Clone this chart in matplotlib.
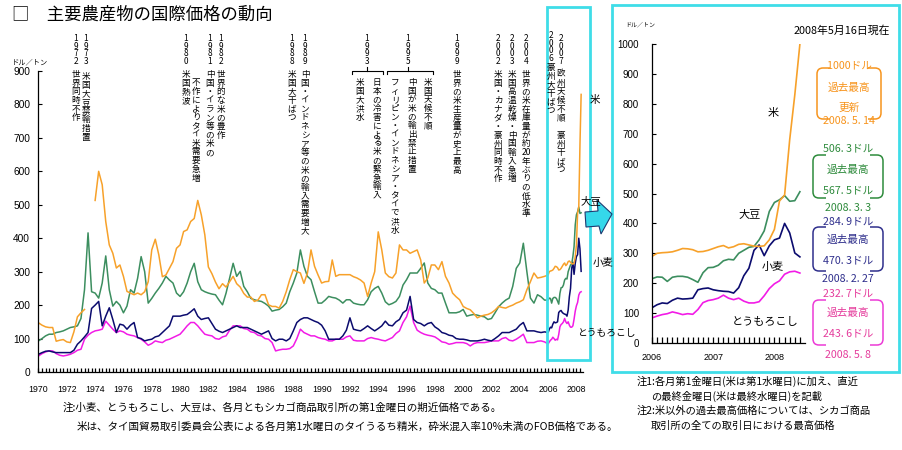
import re
import numpy as np
import matplotlib
matplotlib.use('Agg')
import matplotlib.pyplot as plt
import matplotlib.patches as mpatches
from matplotlib.path import Path

plt.rcParams['font.family'] = ['Noto Sans CJK JP', 'DejaVu Sans']

# ---------------- data (USD / ton) ----------------
# quarterly values 1970.00 ... 2005.75 (main chart)
rice_q = [147, 140, 135, 133,  133, 92, 95, 97,  90, 88, 120, 165,  177, 187, np.nan, np.nan,
          513, 600, 560, 450,  380, 355, 311, 320,  286, 241, 236, 231,  236, 231, 240, 270,
          365, 397, 350, 285,  290, 310, 330, 370,  380, 420, 425, 450,  459, 513, 470, 410,
          314, 294, 269, 249,  264, 254, 270, 286,  264, 254, 235, 224,  224, 211, 215, 231,
          231, 201, 196, 196,  191, 211, 240, 276,  306, 300, 296, 265,  296, 365, 316, 290,
          266, 270, 271, 335,  286, 291, 291, 291,  291, 285, 281, 275,  266, 226, 266, 300,
          419, 365, 296, 285,  281, 296, 380, 365,  365, 355, 360, 365,  335, 266, 281, 320,
          320, 306, 330, 286,  266, 236, 225, 216,  196, 190, 186, 175,  162, 167, 170, 172,
          177, 185, 196, 193,  191, 196, 200, 206,  210, 216, 246, 270,  296, 281, 283, 286]
soy_q = [93, 100, 108, 113,  113, 118, 120, 123,  128, 133, 135, 138,  160, 246, 416, 240,
         236, 221, 266, 347,  246, 197, 211, 200,  177, 197, 246, 236,  280, 345, 300, 206,
         220, 236, 250, 266,  286, 275, 266, 236,  226, 240, 266, 300,  325, 270, 246, 240,
         236, 233, 231, 215,  201, 236, 280, 325,  286, 301, 256, 240,  220, 216, 213, 211,
         205, 197, 182, 185,  187, 195, 206, 240,  266, 296, 365, 316,  286, 276, 240, 206,
         206, 215, 226, 223,  221, 215, 206, 216,  216, 206, 203, 201,  201, 216, 240, 250,
         256, 236, 210, 201,  205, 211, 226, 260,  276, 296, 296, 296,  310, 326, 266, 250,
         246, 236, 236, 206,  177, 177, 177, 180,  187, 167, 170, 172,  170, 167, 165, 157,
         160, 177, 195, 206,  215, 221, 256, 310,  326, 385, 300, 221,  206, 231, 225, 215]
wheat_q = [53, 58, 62, 63,  60, 58, 58, 58,  58, 58, 65, 83,  93, 105, 118, 190,
           200, 211, 138, 167,  192, 157, 118, 143,  140, 128, 140, 148,  103, 100, 93, 96,
           98, 105, 108, 118,  128, 138, 167, 167,  167, 170, 172, 180,  189, 167, 157, 160,
           162, 145, 128, 122,  118, 123, 128, 133,  138, 133, 133, 133,  128, 123, 118, 113,
           118, 123, 100, 93,  98, 98, 93, 100,  123, 148, 157, 162,  162, 157, 152, 148,
           140, 123, 98, 98,  98, 98, 108, 125,  162, 128, 125, 123,  130, 138, 130, 123,
           130, 138, 152, 140,  138, 150, 157, 177,  185, 226, 157, 148,  145, 138, 145, 148,
           135, 128, 118, 115,  110, 108, 100, 98,  98, 96, 93, 93,  93, 95, 98, 95,
           93, 100, 108, 118,  118, 118, 123, 128,  140, 148, 123, 123,  123, 120, 118, 120]
corn_q = [48, 55, 60, 63,  63, 55, 50, 48,  50, 53, 58, 65,  68, 98, 110, 118,
          123, 125, 128, 152,  140, 128, 118, 123,  120, 113, 110, 108,  103, 98, 90, 80,
          85, 93, 90, 88,  95, 98, 103, 108,  113, 125, 138, 148,  148, 138, 125, 113,
          110, 108, 100, 98,  105, 108, 125, 138,  138, 138, 130, 128,  120, 118, 110, 108,
          100, 98, 88, 63,  66, 68, 68, 70,  78, 100, 128, 118,  113, 108, 108, 103,
          100, 98, 93, 93,  98, 98, 98, 105,  108, 95, 93, 93,  93, 100, 103, 100,
          98, 95, 93, 98,  103, 115, 123, 148,  165, 197, 148, 125,  118, 113, 110, 108,
          105, 98, 90, 88,  83, 85, 88, 88,  88, 85, 78, 85,  88, 88, 88, 90,
          93, 93, 93, 100,  103, 95, 93, 98,  105, 113, 88, 88,  88, 92, 93, 90]

# monthly values Jan 2006 ... (last = May 2008 weekly high for rice)
rice_m = [290, 300, 302, 303, 305, 310, 316, 315, 312, 305, 306, 310,
          316, 322, 326, 318, 322, 330, 332, 328, 324, 323, 325, 345,
          380, 475, 495, 680, 830, 1000]
soy_m = [215, 221, 220, 206, 220, 223, 223, 220, 212, 203, 235, 252,
         253, 260, 275, 280, 278, 300, 310, 320, 323, 345, 375, 440,
         470, 479, 493, 474, 476, 506]
wheat_m = [118, 128, 134, 132, 143, 150, 147, 148, 150, 178, 182, 184,
           178, 175, 173, 172, 167, 185, 225, 250, 310, 328, 292, 325,
           345, 351, 400, 368, 301, 288]
corn_m = [84, 90, 95, 98, 104, 100, 95, 98, 96, 112, 135, 142,
          145, 150, 160, 150, 145, 150, 140, 134, 134, 138, 158, 182,
          198, 208, 230, 238, 240, 234]

names = ['米', '大豆', '小麦', 'とうもろこし']
colors = ['#F7A12A', '#3C8E5F', '#0B0B6E', '#F21BE6']

t_q = 1970 + np.arange(len(rice_q)) / 4
t_m = 2006 + np.arange(len(rice_m)) / 12
n_main = len(rice_m) - 1   # main chart uses monthly data up to end of April 2008

W, H = 903, 450
fig = plt.figure(figsize=(W / 100, H / 100), dpi=100)


def px_axes(x0, y0, x1, y1):
    return fig.add_axes([x0 / W, 1 - y1 / H, (x1 - x0) / W, (y1 - y0) / H])


tick_font = 'Liberation Sans'

# ---------------- main chart ----------------
ax = px_axes(38.5, 71, 583.5, 372)
series_q = [rice_q, soy_q, wheat_q, corn_q]
series_m = [rice_m, soy_m, wheat_m, corn_m]
for i in [3, 2, 1, 0]:
    t = np.concatenate([t_q, t_m[:n_main]])
    v = np.concatenate([series_q[i], series_m[i][:n_main]])
    ax.plot(t, v, color=colors[i], lw=1.1)
ax.set_xlim(1970, 2008.5)
ax.set_ylim(0, 900)
ax.set_yticks(np.arange(0, 901, 100))
ax.set_xticks(np.arange(1970, 2009, 2))
ax.set_xticks(np.arange(1970, 2008.5, 0.25), minor=True)
for s in ['top', 'right']:
    ax.spines[s].set_visible(False)
for s in ['left', 'bottom']:
    ax.spines[s].set_linewidth(0.9)
ax.tick_params(axis='y', direction='in', length=3, width=0.8, pad=6, labelsize=7.3)
ax.tick_params(axis='x', which='both', direction='in', length=3, width=0.9, pad=9, labelsize=6.3)
for lab in ax.get_xticklabels() + ax.get_yticklabels():
    lab.set_fontfamily(tick_font)

# ---------------- zoomed panel 2006-2008 ----------------
ax2 = px_axes(652, 44, 805, 343)
for i in [3, 2, 1, 0]:
    ax2.plot(t_m, series_m[i], color=colors[i], lw=1.2)
ax2.set_xlim(2006, 2008.5)
ax2.set_ylim(0, 1000)
ax2.set_yticks(np.arange(0, 1001, 100))
ax2.set_xticks([2006, 2007, 2008])
ax2.set_xticks(np.arange(2006, 2008.5, 1 / 12), minor=True)
for s in ['top', 'right']:
    ax2.spines[s].set_visible(False)
for s in ['left', 'bottom']:
    ax2.spines[s].set_linewidth(0.9)
ax2.tick_params(axis='y', direction='in', length=3, width=0.8, pad=9.4, labelsize=7)
ax2.tick_params(axis='x', which='both', direction='in', length=4, width=0.9, pad=7, labelsize=6.5)
for lab in ax2.get_xticklabels() + ax2.get_yticklabels():
    lab.set_fontfamily(tick_font)

# ---------------- overlay in pixel coordinates ----------------
ov = fig.add_axes([0, 0, 1, 1], zorder=5)
ov.set_xlim(0, W)
ov.set_ylim(H, 0)
ov.axis('off')
ov.patch.set_alpha(0)

ov.text(12, 14.5, '□　主要農産物の国際価格の動向', fontsize=12.5, va='center', ha='left')
ov.text(12, 62, 'ドル／トン', fontsize=5.2, va='center', ha='left')
ov.text(625, 25, 'ドル／トン', fontsize=4.3, va='center', ha='left')
ov.text(890, 31, '2008年5月16日現在', fontsize=7.8, va='center', ha='right')

# cyan frames and arrow
cyan = '#3FDDE8'
ov.add_patch(mpatches.Rectangle((547, 7), 43, 353, fill=False, ec=cyan, lw=2))
ov.add_patch(mpatches.Rectangle((612.5, 5), 287, 367, fill=False, ec=cyan, lw=2))
arrow = [(585, 212), (598, 211), (597, 200), (612, 214), (601, 234), (599, 226), (586, 227)]
ov.add_patch(mpatches.Polygon(arrow, closed=True, fc='#35D8EA', ec='#1E3A70', lw=0.8))

# event annotations (vertical text)
years = [('1972', 76), ('1973', 86), ('1980', 186), ('1981', 210), ('1982', 221),
         ('1988', 292), ('1989', 305), ('1993', 367), ('1995', 408), ('1999', 457),
         ('2002', 498), ('2003', 512), ('2004', 526), ('2006', 551), ('2007', 561)]
events = [(76, 70, '世界同時不作'), (86, 72, '米国大豆禁輸措置'), (186, 70, '米国熱波'),
          (196, 78, '不作によりタイ米需要急増'), (210, 70, '中国・イラン等の米の'),
          (221, 70, '世界的な米の豊作'), (292, 70, '米国大干ばつ'),
          (305, 70, '中国・インドネシア等の米の輸入需要増大'),
          (360, 78, '米国大洪水'), (377, 78, '日本の冷害による米の緊急輸入'),
          (395, 78, 'フィリピン・インドネシア・タイで洪水'), (412, 78, '中国が米の輸出禁止措置'),
          (428, 78, '米国天候不順'), (457, 70, '世界の米生産量が史上最高'),
          (498, 70, '米国・カナダ・豪州同時不作'), (512, 70, '米国高温乾燥・中国輸入急増'),
          (526, 70, '世界の米在庫量が約20年ぶりの低水準'), (551, 63, '豪州大干ばつ'),
          (561, 70, '欧州天候不順 豪州干ばつ')]


def vcol(x, y, s, pitch, size):
    cells = re.findall(r'20(?=年)|.', s)
    for k, c in enumerate(cells):
        ov.text(x, y + pitch * (k + 0.5), c, ha='center', va='center', fontsize=size)


for yr, x in years:
    vcol(x, 32 if yr == '2006' else 35, yr, 7.5, 6.0)
for x, y, s in events:
    vcol(x, y, s, 8.7, 6.2)

# braces for 1993 and 1995
for x0, xm, x1 in [(352, 367, 383), (387, 408, 433)]:
    ov.plot([x0, x0, x1, x1], [74, 70.5, 70.5, 74], color='black', lw=0.8)
    ov.plot([xm, xm], [70.5, 67], color='black', lw=0.8)

# series labels
ov.text(595, 100, '米', fontsize=7.5, ha='center', va='center')
ov.text(591, 201, '大豆', fontsize=7.5, ha='center', va='center')
ov.text(603, 263, '小麦', fontsize=7.5, ha='center', va='center')
ov.text(577, 333, 'とうもろこし', fontsize=7, ha='left', va='center')
ov.text(773, 113, '米', fontsize=8, ha='center', va='center')
ov.text(750, 215, '大豆', fontsize=8, ha='center', va='center')
ov.text(773, 267, '小麦', fontsize=8, ha='center', va='center')
ov.text(765, 322, 'とうもろこし', fontsize=8, ha='center', va='center')

# record-high boxes
records = [
    (817, 881, 68, 119, '#F7941D', '#F7941D', ['1000ドル', '過去最高', '更新', '2008. 5. 14'], [65, 88, 108, 121]),
    (813, 883, 155, 198, '#2E8B3C', '#2E8B3C', ['506. 3ドル', '過去最高', '567. 5ドル', '2008. 3. 3'], [148, 170, 190, 208]),
    (813, 883, 227, 271, '#2F2F8C', '#2F2F8C', ['284. 9ドル', '過去最高', '470. 3ドル', '2008. 2. 27'], [221, 240, 260, 279]),
    (813, 883, 300, 345, '#EC3AD6', '#E53C9C', ['232. 7ドル', '過去最高', '243. 6ドル', '2008. 5. 8'], [293, 313, 333, 355]),
]


def bracket(xe, xi, y0, y1, r, color):
    sgn = 1 if xi > xe else -1
    verts = [(xi, y0), (xe + sgn * r, y0), (xe, y0), (xe, y0 + r),
             (xe, y1 - r), (xe, y1), (xe + sgn * r, y1), (xi, y1)]
    codes = [Path.MOVETO, Path.LINETO, Path.CURVE3, Path.CURVE3,
             Path.LINETO, Path.CURVE3, Path.CURVE3, Path.LINETO]
    ov.add_patch(mpatches.PathPatch(Path(verts, codes), fill=False, ec=color, lw=1.1))


for xl, xr, y0, y1, bc, tc, texts, ys in records:
    bracket(xl, xl + 13, y0, y1, 6, bc)
    bracket(xr, xr - 13, y0, y1, 6, bc)
    xc = (xl + xr) / 2
    for s, yy in zip(texts, ys):
        ov.text(xc, yy, s, color=tc, fontsize=7.7, ha='center', va='center')

# notes
ov.text(63, 408, '注:小麦、とうもろこし、大豆は、各月ともシカゴ商品取引所の第1金曜日の期近価格である。',
        fontsize=7.6, ha='left', va='center')
ov.text(77, 427, '米は、タイ国貿易取引委員会公表による各月第1水曜日のタイうるち精米，砕米混入率10%未満のFOB価格である。',
        fontsize=7.6, ha='left', va='center')
ov.text(637, 381, '注1:各月第1金曜日(米は第1水曜日)に加え、直近', fontsize=7.4, ha='left', va='center')
ov.text(651, 396, 'の最終金曜日(米は最終水曜日)を記載', fontsize=7.4, ha='left', va='center')
ov.text(637, 411, '注2:米以外の過去最高価格については、シカゴ商品', fontsize=7.4, ha='left', va='center')
ov.text(651, 426, '取引所の全ての取引日における最高価格', fontsize=7.4, ha='left', va='center')

fig.savefig('out.png', dpi=100)
